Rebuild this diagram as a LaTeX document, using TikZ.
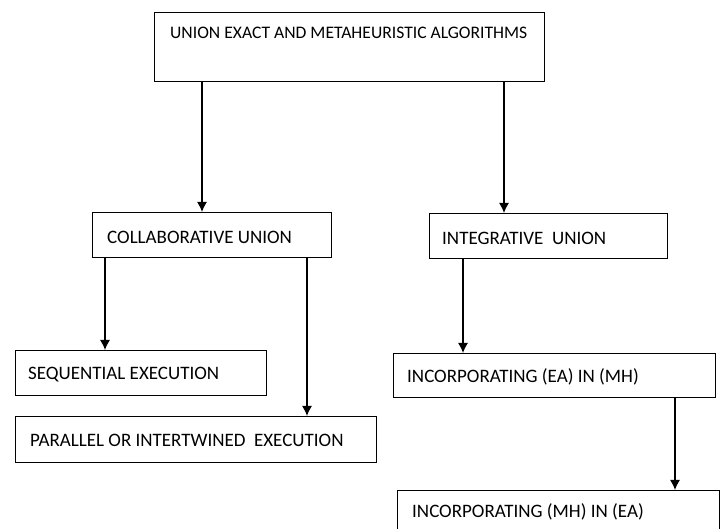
\documentclass[tikz,border=0pt]{standalone}
\usepackage{fontspec}
\setmainfont{Carlito}
\usetikzlibrary{arrows.meta}
\tikzset{
  box/.style={draw,line width=1.3pt,anchor=north west,inner sep=0pt},
  lbl/.style={anchor=west,inner sep=0pt,font=\fontsize{19}{22}\selectfont},
  arr/.style={line width=1.3pt,-{Latex[length=10pt,width=10pt]}}
}
\begin{document}
\begin{tikzpicture}[x=1pt,y=-1pt]
        \useasboundingbox (0,0) rectangle (724,529);
        \clip (0,0) rectangle (724,529);
        \node[box,minimum width=390pt,minimum height=69pt,label={[lbl,font=\fontsize{17.6}{20}\selectfont,xshift=16pt,yshift=-21pt]north west:UNION EXACT AND METAHEURISTIC ALGORITHMS}](top)at(154,12){};
        \node[box,minimum width=239pt,minimum height=45pt,label={[lbl,xshift=15pt,yshift=-2pt]west:COLLABORATIVE UNION}](collab)at(92,212){};
        \node[box,minimum width=238pt,minimum height=45pt,label={[lbl,xshift=13pt,yshift=-2pt]west:INTEGRATIVE~~UNION}](integ)at(429,213){};
        \node[box,minimum width=251pt,minimum height=45pt,label={[lbl,xshift=13pt,yshift=-1pt]west:SEQUENTIAL EXECUTION}](seq)at(15,350){};
        \node[box,minimum width=361pt,minimum height=46pt,label={[lbl,xshift=15pt,yshift=-1pt]west:PARALLEL OR INTERTWINED~~EXECUTION}](par)at(15,416){};
        \node[box,minimum width=322pt,minimum height=44pt,label={[lbl,xshift=14pt,yshift=-1pt]west:INCORPORATING (EA) IN (MH)}](eamh)at(393,353){};
        \node[box,minimum width=322pt,minimum height=60pt,label={[lbl,xshift=15pt,yshift=-22pt]north west:INCORPORATING (MH) IN (EA)}](mhea)at(397,490){};
        \draw[arr]([xshift=48pt]top.south west)--([xshift=48pt]top.south west |- collab.north);
        \draw[arr]([xshift=350pt]top.south west)--([xshift=350pt]top.south west |- integ.north);
        \draw[arr]([xshift=13pt]collab.south west)--([xshift=13pt]collab.south west |- seq.north);
        \draw[arr]([xshift=215pt]collab.south west)--([xshift=215pt]collab.south west |- par.north);
        \draw[arr]([xshift=34pt]integ.south west)--([xshift=34pt]integ.south west |- eamh.north);
        \draw[arr]([xshift=282pt]eamh.south west)--([xshift=282pt]eamh.south west |- mhea.north);
    \end{tikzpicture}
\end{document}
